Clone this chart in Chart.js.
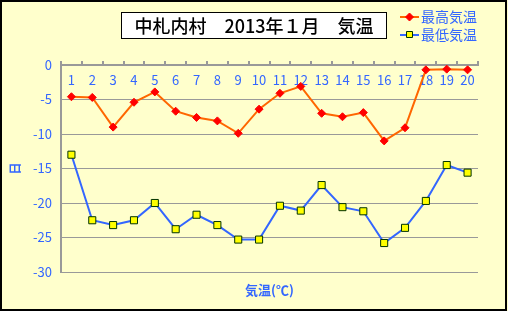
<!DOCTYPE html>
<html>
<head>
<meta charset="utf-8">
<script src="https://cdn.jsdelivr.net/npm/chart.js@4"></script>
<style>
  html, body { margin: 0; padding: 0; background: #fff; }
  #wrap { width: 508px; height: 311px; }
</style>
</head>
<body>
<div id="wrap"><canvas id="temp-chart" width="508" height="311"></canvas></div>
<script>
const days = ["1", "2", "3", "4", "5", "6", "7", "8", "9", "10",
  "11", "12", "13", "14", "15", "16", "17", "18", "19", "20"];
const maxTemp = [-4.6, -4.7, -9.0, -5.4, -3.9, -6.7, -7.6, -8.1, -9.9, -6.4,
  -4.1, -3.1, -7.0, -7.5, -6.9, -11.0, -9.1, -0.7, -0.6, -0.7];
const minTemp = [-13.0, -22.5, -23.2, -22.5, -20.0, -23.8, -21.7, -23.2, -25.3, -25.3,
  -20.4, -21.1, -17.4, -20.6, -21.2, -25.8, -23.6, -19.7, -14.5, -15.6];
const yMin = -30, yMax = 0, yStep = 5;

const titleText = "中札内村　2013年１月　気温";
const seriesNames = ["最高気温", "最低気温"];
const yTitle = "日";
const xTitle = "気温(℃)";

const BLUE = "#3366ff";
const FONT = '"Noto Sans CJK JP", "Noto Sans", sans-serif';

// frame, title box and legend
const decor = {
  id: "decor",
  beforeDraw(chart) {
    const c = chart.ctx;
    c.save();
    c.fillStyle = "#ffffcc";
    c.fillRect(0, 0, chart.width, chart.height);
    c.restore();
  },
  afterDraw(chart) {
    const c = chart.ctx;
    c.save();
    c.strokeStyle = "#000";
    c.lineWidth = 2;
    c.strokeRect(1, 1, chart.width - 3, chart.height - 2);

    // title box
    c.fillStyle = "#fff";
    c.fillRect(121, 12, 265, 26);
    c.lineWidth = 1;
    c.strokeRect(121.5, 12.5, 265, 26);
    c.fillStyle = "#000";
    c.font = "500 18px " + FONT;
    c.textAlign = "center";
    c.textBaseline = "middle";
    c.fillText(titleText, 254, 26);

    // legend
    const ds = chart.data.datasets;
    const rows = [17, 35];
    ds.forEach((d, i) => {
      const y = rows[i];
      c.strokeStyle = d.borderColor;
      c.lineWidth = 2;
      c.beginPath();
      c.moveTo(400, y);
      c.lineTo(419, y);
      c.stroke();
      c.fillStyle = d.pointBackgroundColor;
      c.strokeStyle = d.pointBorderColor;
      c.lineWidth = 1;
      c.beginPath();
      if (d.pointStyle === "rectRot") {
        c.moveTo(409.5, y - 4);
        c.lineTo(413.5, y);
        c.lineTo(409.5, y + 4);
        c.lineTo(405.5, y);
        c.closePath();
      } else {
        c.rect(406.5, y - 3.5, 6, 6);
      }
      c.fill();
      c.stroke();
      c.fillStyle = BLUE;
      c.font = "14px " + FONT;
      c.textAlign = "left";
      c.textBaseline = "middle";
      c.fillText(d.label, 421, y);
    });
    c.restore();
  },
};

new Chart(document.getElementById("temp-chart"), {
  type: "line",
  data: {
    labels: days,
    datasets: [
      {
        label: seriesNames[0],
        data: maxTemp,
        borderColor: "#ff6600",
        borderWidth: 2,
        pointStyle: "rectRot",
        pointRadius: 4,
        pointBackgroundColor: "#ff0000",
        pointBorderColor: "#ff0000",
        pointBorderWidth: 1,
        tension: 0,
      },
      {
        label: seriesNames[1],
        data: minTemp,
        borderColor: BLUE,
        borderWidth: 2,
        pointStyle: "rect",
        pointRadius: 5,
        pointBackgroundColor: "#ffff00",
        pointBorderColor: "#003300",
        pointBorderWidth: 1,
        tension: 0,
      },
    ],
  },
  options: {
    responsive: false,
    animation: false,
    layout: { padding: { left: 0, top: 0, right: 30, bottom: 0 } },
    plugins: {
      legend: { display: false },
      title: { display: false },
      tooltip: { enabled: false },
    },
    scales: {
      x: {
        type: "category",
        position: "top",
        offset: true,
        grid: {
          offset: true,
          drawOnChartArea: false,
          tickLength: 4,
          color: "#999",
          lineWidth: 2,
        },
        border: { color: "#999", width: 2 },
        ticks: {
          mirror: true,
          padding: 7,
          color: BLUE,
          font: { family: FONT, size: 13 },
          maxRotation: 0,
          autoSkip: false,
        },
        afterFit: (s) => { s.height = 65; },
      },
      x2: {
        type: "category",
        position: "bottom",
        grid: { display: false },
        border: { display: false },
        ticks: { display: false },
        title: {
          display: true,
          text: xTitle,
          color: BLUE,
          font: { family: FONT, size: 13, weight: "bold" },
          padding: { top: 0, bottom: 13 },
        },
        afterFit: (s) => { s.height = 39; },
      },
      y: {
        min: yMin,
        max: yMax,
        ticks: {
          stepSize: yStep,
          color: BLUE,
          padding: 9,
          font: { family: FONT, size: 13 },
        },
        grid: { color: "#999", lineWidth: 1, drawTicks: false },
        border: { color: "#999", width: 2 },
        title: {
          display: true,
          text: yTitle,
          color: BLUE,
          font: { family: FONT, size: 12, weight: "bold" },
          padding: { top: 8, bottom: 0 },
        },
        afterFit: (s) => { s.width = 61; },
      },
    },
  },
  plugins: [decor],
});
</script>
</body>
</html>
